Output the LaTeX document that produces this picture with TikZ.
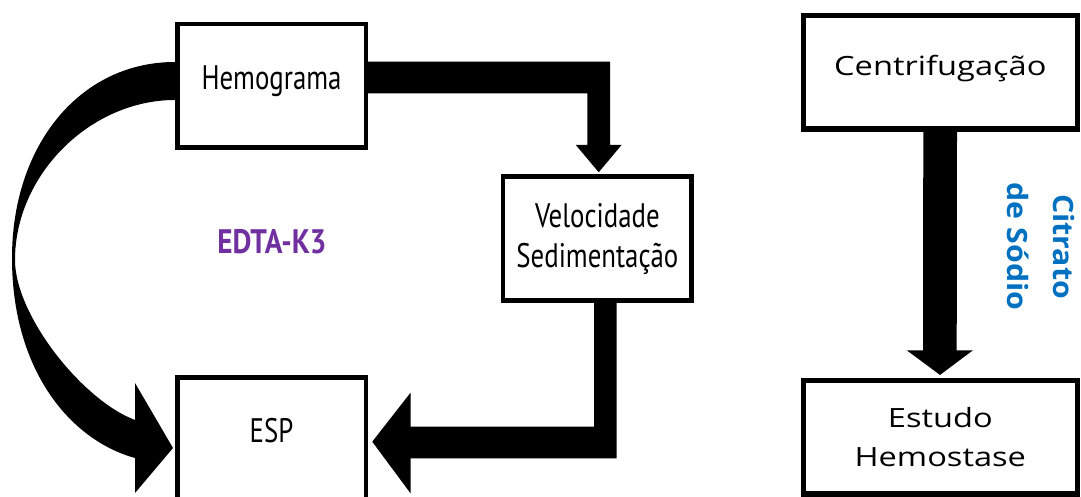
\documentclass[tikz,border=0pt]{standalone}
\usepackage{fontspec}
\usetikzlibrary{calc}
\newfontfamily\leftfont[FakeStretch=0.79]{PT Sans}
\newfontfamily\edtafont[FakeStretch=0.86]{PT Sans}
\newfontfamily\rightfont[FakeStretch=1.23]{Open Sans}
\newfontfamily\citfont[FakeStretch=1.08]{Open Sans}
\definecolor{edtacol}{HTML}{7030A0}
\definecolor{citrcol}{HTML}{0070C0}
\begin{document}
\begin{tikzpicture}[x=1pt,y=-1pt,
  lbox/.style={draw=black, line width=4.5pt, fill=white, minimum width=188.5pt, minimum height=123.5pt, inner sep=0pt, align=center, font=\leftfont\fontsize{34}{40}\selectfont},
  rbox/.style={draw=black, line width=5.5pt, fill=white, minimum width=274pt, minimum height=113.5pt, inner sep=0pt, align=center, font=\rightfont\fontsize{26.5}{39}\selectfont},
  single/.style={text height=0.7em, text depth=0pt},
  bigarrow/.style={fill=black}]
\useasboundingbox (0,0) rectangle (1081,497);
\clip (0,0) rectangle (1081,497);
\fill[white] (0,0) rectangle (1081,497);

% boxes
\node[lbox, single] (hemo) at (271.5,86) {Hemograma};
\node[lbox] (velo) at (597.4,238.5) {Velocidade\\Sedimentação};
\node[lbox, single] (esp) at (271.5,439) {ESP};
\node[rbox, single] (centri) at (940.3,72.5) {Centrifugação};
\node[rbox] (estudo) at (940.3,437.2) {Estudo\\Hemostase};

% labels
\node[font=\edtafont\bfseries\fontsize{34}{38}\selectfont, text=edtacol, single, inner sep=0pt] (edta) at (272,250) {EDTA-K3};
\node[font=\citfont\bfseries\fontsize{28}{46}\selectfont, text=citrcol, align=center, rotate=-90, inner sep=0pt] (citrato) at (1041,246.5) {Citrato\\de Sódio};

% tips
\coordinate (vtip) at ($(velo.north)+(1.3,-2.25)$);
\coordinate (etip) at ($(esp.east)+(4.25,2.7)$);
\coordinate (ltip) at ($(esp.west)+(-2,9)$);
\coordinate (ctip) at ($(estudo.north)+(-0.3,-2.75)$);

% Hemograma -> Velocidade
\fill[bigarrow] ($(hemo.east)+(0,-24.3)$) -| ($(vtip)+(11.3,-27.3)$) -- ($(vtip)+(22.9,-27.3)$) -- (vtip)
  -- ($(vtip)+(-22.9,-27.3)$) -- ($(vtip)+(-11.4,-27.3)$) |- ($(hemo.east)+(0,7.3)$) -- cycle;

% Velocidade -> ESP
\fill[bigarrow] ($(velo.south)+(-3.4,0)$) -- ($(velo.south)+(19.3,0)$) |- ($(etip)+(38.3,16.6)$)
  -- ($(etip)+(38.3,51.6)$) -- (etip) -- ($(etip)+(38.3,-49)$) -- ($(etip)+(38.3,-15)$)
  -| ($(velo.south)+(-3.4,0)$) -- cycle;

% Hemograma -> ESP (curved)
\fill[bigarrow] ($(hemo.west)+(0,-24)$) .. controls (80,62) and (12,145) .. (12,258)
  .. controls (12,370) and (70,440) .. (135,458) -- (135,493) -- (ltip) -- (135,383) -- (135,420)
  .. controls (82,400) and (15,315) .. (15,260)
  .. controls (15,175) and (90,100) .. ($(hemo.west)+(0,14)$) -- cycle;

% Centrifugacao -> Estudo
\fill[bigarrow] ($(centri.south)+(-17,0)$) -- ($(centri.south)+(16.7,0)$) -- ($(ctip)+(16.7,-24.7)$)
  -- ($(ctip)+(33,-24.7)$) -- (ctip) -- ($(ctip)+(-33.3,-24.7)$) -- ($(ctip)+(-17,-24.7)$) -- cycle;
\end{tikzpicture}
\end{document}
